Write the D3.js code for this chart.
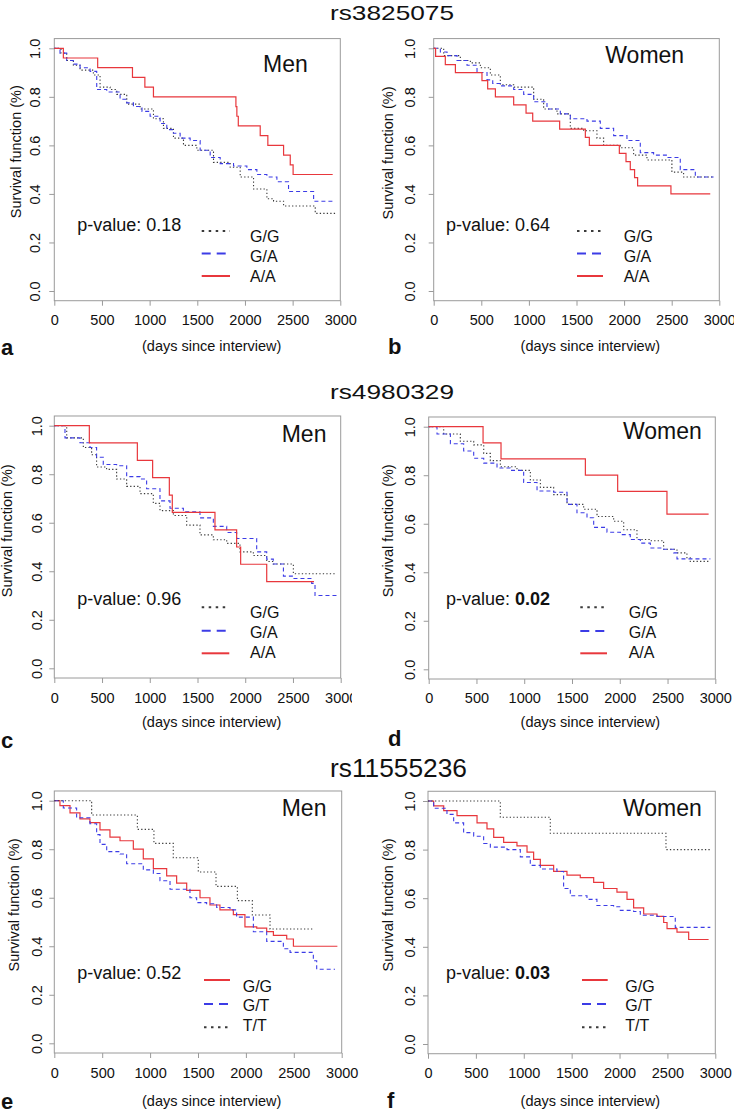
<!DOCTYPE html>
<html><head><meta charset="utf-8">
<script src="https://cdn.jsdelivr.net/npm/d3@7"></script>
<style>
body{margin:0;background:#fff}
svg{display:block}
text{font-family:"Liberation Sans",Arial,Helvetica,sans-serif;fill:#111}
</style>
</head><body>
<svg id="c" width="734" height="1113"></svg>
<script>
// ---------- data ----------
const snps = ["rs3825075", "rs4980329", "rs11555236"];
const sexes = ["Men", "Women", "Men", "Women", "Men", "Women"];
const panelLetters = ["a", "b", "c", "d", "e", "f"];
const pValues = ["0.18", "0.64", "0.96", "0.02", "0.52", "0.03"];
const pBold = [false, false, false, true, false, true];
const genotypesGA = ["G/G", "G/A", "A/A"];
const genotypesGT = ["G/G", "G/T", "T/T"];
const xTicks = [0, 500, 1000, 1500, 2000, 2500, 3000];
const yTicks = [0, 0.2, 0.4, 0.6, 0.8, 1.0];
const xTitle = "(days since interview)";
const yTitle = "Survival function (%)";

// panel a: rs3825075 men
const aGG = [[0,1],[70,0.98],[130,0.95],[200,0.93],[270,0.91],[410,0.89],[480,0.84],[585,0.83],[655,0.81],[760,0.77],[900,0.75],[1040,0.71],[1145,0.67],[1250,0.63],[1355,0.60],[1495,0.58],[1670,0.53],[1845,0.51],[1950,0.47],[2090,0.42],[2230,0.38],[2300,0.37],[2405,0.35],[2737,0.32],[2947,0.32]];
const aGA = [[0,1],[60,0.98],[130,0.95],[200,0.935],[270,0.92],[375,0.905],[445,0.83],[550,0.82],[690,0.79],[760,0.775],[830,0.76],[920,0.74],[1005,0.72],[1110,0.69],[1180,0.665],[1250,0.65],[1320,0.63],[1425,0.62],[1530,0.58],[1635,0.55],[1740,0.525],[1880,0.515],[2020,0.50],[2125,0.48],[2230,0.47],[2335,0.45],[2457,0.41],[2720,0.37],[2947,0.37]];
const aAA = [[0,1],[95,0.96],[455,0.92],[820,0.88],[950,0.84],[1040,0.80],[1905,0.76],[1915,0.72],[1930,0.68],[2160,0.64],[2240,0.60],[2405,0.56],[2475,0.52],[2505,0.48],[2920,0.48]];
// panel b: rs3825075 women
const bGG = [[0,1],[105,0.97],[280,0.95],[385,0.94],[490,0.92],[595,0.89],[700,0.85],[840,0.84],[1050,0.79],[1155,0.75],[1295,0.73],[1435,0.67],[1575,0.66],[1715,0.63],[1785,0.60],[1960,0.59],[2100,0.56],[2240,0.54],[2502,0.49],[2625,0.47],[2940,0.47]];
const bGA = [[0,1],[70,0.985],[140,0.97],[245,0.95],[350,0.93],[455,0.90],[560,0.87],[620,0.855],[700,0.845],[840,0.83],[945,0.81],[1050,0.78],[1190,0.75],[1330,0.73],[1435,0.71],[1610,0.70],[1750,0.67],[1890,0.64],[2030,0.62],[2170,0.57],[2310,0.56],[2450,0.55],[2590,0.50],[2748,0.47],[2940,0.47]];
const bAA = [[0,1],[20,0.967],[122,0.933],[228,0.90],[507,0.867],[567,0.833],[648,0.80],[840,0.767],[970,0.733],[1040,0.70],[1323,0.667],[1593,0.633],[1635,0.60],[1950,0.567],[2020,0.533],[2065,0.50],[2110,0.467],[2142,0.433],[2492,0.40],[2905,0.40]];
// panel c: rs4980329 men
const cGG = [[0,1],[130,0.95],[304,0.91],[391,0.88],[443,0.83],[548,0.82],[653,0.78],[758,0.75],[898,0.72],[1037,0.68],[1107,0.65],[1247,0.63],[1387,0.59],[1526,0.55],[1666,0.53],[1806,0.515],[1945,0.48],[2085,0.465],[2225,0.44],[2294,0.43],[2504,0.39],[2940,0.39]];
const cGA = [[0,1],[112,0.95],[269,0.93],[374,0.91],[443,0.87],[513,0.84],[653,0.835],[758,0.79],[898,0.78],[967,0.74],[1107,0.69],[1212,0.66],[1352,0.645],[1526,0.62],[1666,0.585],[1806,0.56],[1910,0.535],[2120,0.48],[2225,0.45],[2294,0.43],[2400,0.38],[2504,0.37],[2696,0.35],[2731,0.30],[2958,0.30]];
const cAA = [[0,1],[367,0.929],[870,0.857],[1030,0.786],[1205,0.714],[1236,0.643],[1683,0.571],[1910,0.50],[1952,0.429],[2225,0.357],[2720,0.357]];
// panel d: rs4980329 women
const dGG = [[0,1],[157,0.97],[331,0.94],[471,0.925],[576,0.89],[645,0.86],[750,0.835],[924,0.82],[1064,0.78],[1169,0.75],[1308,0.72],[1448,0.68],[1622,0.66],[1762,0.63],[1936,0.61],[2041,0.575],[2180,0.535],[2320,0.53],[2459,0.495],[2599,0.48],[2703,0.46],[2738,0.445],[2948,0.445]];
const dGA = [[0,1],[87,0.97],[227,0.93],[366,0.90],[471,0.87],[576,0.85],[715,0.83],[855,0.82],[994,0.77],[1134,0.735],[1308,0.73],[1448,0.68],[1552,0.645],[1657,0.625],[1727,0.585],[1866,0.565],[2006,0.555],[2110,0.535],[2215,0.52],[2320,0.50],[2459,0.495],[2564,0.48],[2599,0.455],[2948,0.455]];
const dAA = [[0,1],[569,0.933],[757,0.867],[1640,0.80],[1978,0.733],[2494,0.64],[2930,0.64]];
// panel e: rs11555236 men
const eGG = [[0,1],[59,0.98],[164,0.95],[268,0.925],[372,0.91],[477,0.88],[581,0.85],[686,0.835],[825,0.80],[929,0.76],[1034,0.72],[1173,0.69],[1277,0.66],[1382,0.63],[1521,0.60],[1625,0.57],[1729,0.55],[1869,0.53],[1990,0.48],[2113,0.475],[2217,0.46],[2287,0.445],[2426,0.43],[2496,0.40],[2955,0.40]];
const eGT = [[0,1],[94,0.97],[233,0.93],[372,0.905],[442,0.86],[477,0.82],[547,0.79],[686,0.78],[755,0.74],[929,0.715],[1034,0.70],[1103,0.67],[1208,0.635],[1416,0.60],[1486,0.58],[1590,0.575],[1695,0.56],[1834,0.55],[1903,0.52],[2078,0.46],[2217,0.42],[2391,0.39],[2461,0.375],[2704,0.34],[2739,0.305],[2930,0.305]];
const eTT = [[0,1],[390,0.941],[867,0.882],[1040,0.824],[1242,0.765],[1503,0.706],[1688,0.647],[1911,0.588],[2067,0.529],[2252,0.471],[2715,0.471]];
// panel f: rs11555236 women
const fGG = [[0,1],[59,0.98],[164,0.96],[303,0.94],[512,0.91],[616,0.885],[686,0.85],[790,0.83],[929,0.815],[1034,0.79],[1103,0.76],[1173,0.735],[1312,0.71],[1451,0.695],[1590,0.685],[1730,0.665],[1834,0.64],[1973,0.625],[2078,0.595],[2147,0.56],[2252,0.535],[2391,0.525],[2461,0.50],[2496,0.475],[2600,0.46],[2722,0.43],[2930,0.43]];
const fGT = [[0,1],[59,0.97],[198,0.945],[268,0.91],[372,0.87],[477,0.855],[581,0.825],[651,0.81],[825,0.80],[964,0.77],[1068,0.735],[1173,0.72],[1347,0.71],[1416,0.64],[1486,0.61],[1660,0.595],[1764,0.57],[1938,0.565],[2008,0.55],[2147,0.545],[2217,0.53],[2391,0.525],[2582,0.48],[2948,0.48]];
const fTT = [[0,1],[755,0.933],[1277,0.867],[2485,0.80],[2948,0.80]];

// ---------- styles ----------
const styles = {
  dot:   {stroke: "#3a3a3a", w: 1.1, dash: "1.3 2.2", lw: 2, ldash: "2.5 4.5"},
  dash:  {stroke: "#3c3ce6", w: 1.1, dash: "4 3",     lw: 2, ldash: "9 6"},
  solid: {stroke: "#e8373c", w: 1.2, dash: null,      lw: 2, ldash: null}
};

const panels = [
  {series: [[aGG,"dot"],[aGA,"dash"],[aAA,"solid"]], labels: genotypesGA},
  {series: [[bGG,"dot"],[bGA,"dash"],[bAA,"solid"]], labels: genotypesGA},
  {series: [[cGG,"dot"],[cGA,"dash"],[cAA,"solid"]], labels: genotypesGA},
  {series: [[dGG,"dot"],[dGA,"dash"],[dAA,"solid"]], labels: genotypesGA},
  {series: [[eGG,"solid"],[eGT,"dash"],[eTT,"dot"]], labels: genotypesGT},
  {series: [[fGG,"solid"],[fGT,"dash"],[fTT,"dot"]], labels: genotypesGT}
];

// ---------- layout (pixels) ----------
const layout = [
  {L:54.3, R:340.3, Y1:48.3,  Y0:291,    ytl:14.3, yt:21,    ytc:151.7, xtl:325,   xlab:[211.7,350.7], sex:[263,71.7],   pv:[77.3,230.7], leg:{x1:201.7,x2:230,  tx:250,   ly:[231,253.5,276],  ty:[241.5,261.5,281.5]}, letter:[1,355]},
  {L:433.7,R:719.3, Y1:48.3,  Y0:291,    ytl:18.4, yt:392.5, ytc:153,   xtl:325,   xlab:[590.3,350.7], sex:[605.3,63.3], pv:[446,230.7],  leg:{x1:577,  x2:603,  tx:623.7, ly:[231,253.5,276],  ty:[241.5,261.5,281.5]}, letter:[388,354]},
  {L:54.3, R:340.7, Y1:425.7, Y0:668.3,  ytl:12.6, yt:12,    ytc:530.8, xtl:703.3, xlab:[211.7,726.7], sex:[281.7,441.7],pv:[77.3,605],   leg:{x1:201.7,x2:229.3,tx:250,   ly:[607.3,630.7,653.3], ty:[618.3,638.3,658.3]}, letter:[1,748], clip:352},
  {L:428.7,R:715.3, Y1:426.7, Y0:669.3,  ytl:13.4, yt:392.5, ytc:530.8, xtl:703.3, xlab:[590.3,726.7], sex:[623,439.3],  pv:[446,605],    leg:{x1:580.3,x2:607,  tx:628.7, ly:[607.3,631,653.3], ty:[618.3,638.3,658.3]}, letter:[388,746]},
  {L:54.3, R:341.7, Y1:800.7, Y0:1043.3, ytl:12.6, yt:19,    ytc:905,   xtl:1078.3,xlab:[211.7,1106],  sex:[281.7,816],   pv:[77.3,979.3], leg:{x1:204,  x2:230,  tx:242.7, ly:[980,1004,1027.3], ty:[991.7,1011,1031]}, letter:[1,1109]},
  {L:428,  R:715.3, Y1:801,   Y0:1044,   ytl:12.7, yt:392.5, ytc:905,   xtl:1078,  xlab:[590.3,1106],  sex:[623,816],     pv:[446,979.3],  leg:{x1:582,  x2:607.7,tx:625.3, ly:[980,1004,1027.3], ty:[991.7,1011,1031]}, letter:[387,1108]}
];

const titles = [
  {x:330, y:19.5, size:21, len:124},
  {x:330, y:399,  size:21, len:124},
  {x:330, y:776.5,size:26, len:137}
];

const svg = d3.select("#c");
const BOX = "#9a9a9a";

// titles
snps.forEach((s, i) => {
  const t = titles[i];
  svg.append("text").attr("x", t.x).attr("y", t.y)
    .attr("font-size", t.size).attr("textLength", t.len)
    .attr("lengthAdjust", "spacingAndGlyphs").text(s);
});

const defs = svg.append("defs");

panels.forEach((p, i) => {
  const Ly = layout[i];
  const x = d3.scaleLinear().domain([0, 3000]).range([Ly.L, Ly.R]);
  const y = d3.scaleLinear().domain([0, 1]).range([Ly.Y0, Ly.Y1]);
  const g = svg.append("g");

  // box
  g.append("rect").attr("x", x(0)).attr("y", y(1.04))
    .attr("width", x(3000) - x(0)).attr("height", y(-0.04) - y(1.04))
    .attr("fill", "none").attr("stroke", BOX).attr("stroke-width", 1);

  // y axis
  const ya = g.append("g").attr("transform", `translate(${x(0)},0)`)
    .call(d3.axisLeft(y).tickValues(yTicks).tickSize(5).tickFormat(d3.format(".1f")));
  ya.select(".domain").remove();
  ya.selectAll(".tick line").attr("stroke", BOX);
  ya.selectAll(".tick text")
    .attr("x", null).attr("dy", null).attr("y", null)
    .attr("transform", `translate(${-Ly.ytl},0) rotate(-90)`)
    .attr("text-anchor", "middle").attr("font-size", 14.5)
    .attr("font-family", null).attr("fill", "#111");

  // x axis
  const xa = g.append("g").attr("transform", `translate(0,${y(-0.04)})`)
    .call(d3.axisBottom(x).tickValues(xTicks).tickSize(5).tickFormat(d3.format("d")));
  xa.select(".domain").remove();
  xa.selectAll(".tick line").attr("stroke", BOX);
  xa.selectAll(".tick text")
    .attr("dy", null).attr("y", Ly.xtl - y(-0.04))
    .attr("font-size", 14.5).attr("font-family", null).attr("fill", "#111");
  if (Ly.clip) {
    defs.append("clipPath").attr("id", "clip" + i)
      .append("rect").attr("x", 0).attr("y", 0).attr("width", Ly.clip).attr("height", 1113);
    g.append("g").attr("clip-path", `url(#clip${i})`).node().appendChild(xa.node());
  }

  // axis titles
  g.append("text").attr("transform", `translate(${Ly.yt},${Ly.ytc}) rotate(-90)`)
    .attr("text-anchor", "middle").attr("font-size", 14.5).text(yTitle);
  g.append("text").attr("x", Ly.xlab[0]).attr("y", Ly.xlab[1])
    .attr("text-anchor", "middle").attr("font-size", 14.5).text(xTitle);

  // curves
  const line = d3.line().x(d => x(d[0])).y(d => y(d[1])).curve(d3.curveStepAfter);
  p.series.forEach(([data, st]) => {
    const s = styles[st];
    g.append("path").datum(data).attr("d", line)
      .attr("fill", "none").attr("stroke", s.stroke).attr("stroke-width", s.w)
      .attr("stroke-dasharray", s.dash);
  });

  // sex label
  g.append("text").attr("x", Ly.sex[0]).attr("y", Ly.sex[1])
    .attr("font-size", 23).text(sexes[i]);

  // p-value
  const pt = g.append("text").attr("x", Ly.pv[0]).attr("y", Ly.pv[1]).attr("font-size", 18);
  pt.append("tspan").text("p-value: ");
  pt.append("tspan").attr("font-weight", pBold[i] ? "bold" : null).text(pValues[i]);

  // legend
  p.series.forEach(([data, st], k) => {
    const s = styles[st];
    g.append("line").attr("x1", Ly.leg.x1).attr("x2", Ly.leg.x2)
      .attr("y1", Ly.leg.ly[k]).attr("y2", Ly.leg.ly[k])
      .attr("stroke", s.stroke).attr("stroke-width", s.lw).attr("stroke-dasharray", s.ldash);
    g.append("text").attr("x", Ly.leg.tx).attr("y", Ly.leg.ty[k])
      .attr("font-size", 16).text(p.labels[k]);
  });

  // panel letter
  g.append("text").attr("x", Ly.letter[0]).attr("y", Ly.letter[1])
    .attr("font-size", 22).attr("font-weight", "bold").text(panelLetters[i]);
});
</script>
</body></html>
